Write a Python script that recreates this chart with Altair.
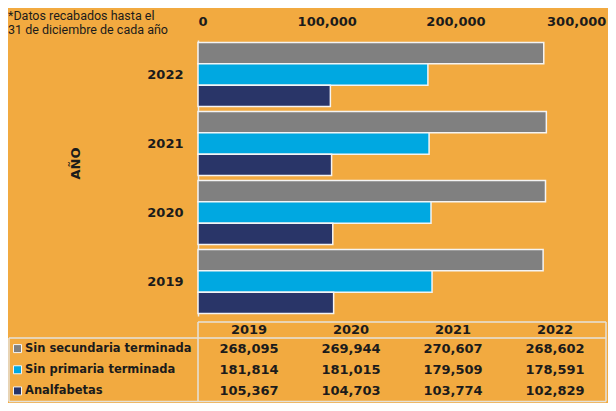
import altair as alt
import pandas as pd

# ---- data -------------------------------------------------------------
years = ["2019", "2020", "2021", "2022"]
series = ["Sin secundaria terminada", "Sin primaria terminada", "Analfabetas"]
sin_secundaria = [268095, 269944, 270607, 268602]
sin_primaria = [181814, 181015, 179509, 178591]
analfabetas = [105367, 104703, 103774, 102829]
x_ticks = [0, 100000, 200000, 300000]
note = ["*Datos recabados hasta el", "31 de diciembre de cada año"]
axis_title = "AÑO"

# ---- styles -----------------------------------------------------------
colors = ["#808080", "#00a8e1", "#293568"]
bg = "#f2aa40"
ink = "#1b1b1b"
line_c = "#e4e2dc"
font = "DejaVu Sans"

rows = []
for serie, vals in zip(series, [sin_secundaria, sin_primaria, analfabetas]):
    for y, v in zip(years, vals):
        rows.append({"year": y, "serie": serie, "value": v})
df = pd.DataFrame(rows)
df_years = pd.DataFrame({"year": years})
df_series = pd.DataFrame({"serie": series})
one = pd.DataFrame({"k": [0]})

color_scale = alt.Scale(domain=series, range=colors)

bars = alt.Chart(df).mark_bar(stroke="#f4f4f4", strokeWidth=1.5).encode(
    x=alt.X(
        "value:Q",
        scale=alt.Scale(domain=[0, 318500], nice=False),
        axis=alt.Axis(
            orient="top", values=x_ticks, format=",d", title=None, grid=False,
            domain=False, ticks=False, tickSize=0, labelPadding=12,
            labelFont=font, labelFontSize=13, labelFontWeight="bold", labelColor=ink,
            labelOffset={"condition": {"test": "datum.value >= 300000", "value": -8}, "value": 0},
        ),
    ),
    y=alt.Y(
        "year:N", sort=years[::-1],
        scale=alt.Scale(paddingInner=0.072, paddingOuter=0.036),
        axis=alt.Axis(
            title=axis_title, titleX=-123, titleY=123, titleAngle=-90,
            titleBaseline="middle", titleAlign="center",
            titleFont=font, titleFontSize=13, titleFontWeight="bold", titleColor=ink,
            labelFont=font, labelFontSize=13, labelFontWeight="bold", labelColor=ink,
            labelPadding=15, ticks=False, tickSize=0, grid=False,
            domainColor="#eeeeee", domainWidth=1.5,
        ),
    ),
    yOffset=alt.YOffset("serie:N", sort=series, scale=alt.Scale(paddingInner=0, paddingOuter=0)),
    color=alt.Color("serie:N", scale=color_scale, legend=None),
)

tx = alt.X("year:N", sort=years, scale=alt.Scale(type="point", range=[0, 408], padding=0.5), axis=None)
ty = alt.Y("serie:N", sort=series, scale=alt.Scale(type="point", range=[298, 361.5], padding=0.5), axis=None)

numbers = alt.Chart(df).mark_text(font=font, fontSize=13, fontWeight="bold", color=ink).encode(
    x=tx, y=ty, text=alt.Text("value:Q", format=",d")
)
header = alt.Chart(df_years).mark_text(font=font, fontSize=13, fontWeight="bold", color=ink).encode(
    x=tx, y=alt.value(290), text="year:N"
)
labels = alt.Chart(df_series).mark_text(font=font, fontSize=11.5, fontWeight="bold", color=ink, align="left").encode(
    x=alt.value(-173), y=ty, text="serie:N"
)
symbols = alt.Chart(df_series).mark_square(size=64, opacity=1, filled=True, stroke="#f4f4f4", strokeWidth=1).encode(
    x=alt.value(-180.5), y=ty, color=alt.Color("serie:N", scale=color_scale, legend=None)
)

def hline(y, x1, x2):
    return alt.Chart(one).mark_rule(color=line_c, strokeWidth=1.5).encode(
        x=alt.value(x1), x2=alt.value(x2), y=alt.value(y))

def vline(x, y1, y2):
    return alt.Chart(one).mark_rule(color=line_c, strokeWidth=1.5).encode(
        x=alt.value(x), y=alt.value(y1), y2=alt.value(y2))

rules = [
    hline(282, 0, 408),
    hline(298, -189, 408),
    hline(361.5, -189, 408),
    vline(-189, 298, 361.5),
    vline(0, 282, 361.5),
    vline(408, 282, 361.5),
]

note_txt = alt.Chart(one).mark_text(
    align="left", baseline="alphabetic", font="Roboto", fontSize=12.5,
    lineHeight=14, color=ink, text=note,
).encode(x=alt.value(-190), y=alt.value(-20))

chart = alt.layer(
    bars, *rules, numbers, header, labels, symbols, note_txt
).resolve_scale(
    x="independent", y="independent"
).properties(
    width=410, height=276,
    autosize=alt.AutoSizeParams(type="none"),
    padding={"left": 190, "top": 32, "right": 0, "bottom": 87},
    background=bg,
).configure_view(stroke=None)

chart.save("out.html", embed_options={"renderer": "svg", "actions": False})
